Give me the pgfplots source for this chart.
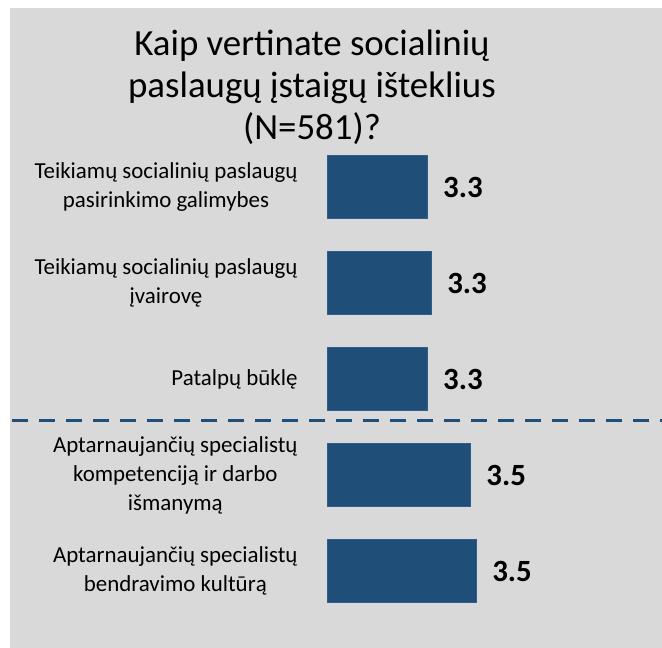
\documentclass[border=0pt]{standalone}
\usepackage{pgfplots}
\pgfplotsset{compat=1.18}
\usepackage{fontspec}
\setmainfont{Carlito}
\definecolor{bgc}{HTML}{D9D9D9}
\definecolor{barc}{HTML}{1F4E79}
\definecolor{baredge}{HTML}{2E5F8C}
\begin{document}
\begin{tikzpicture}[x=1bp,y=1bp]
\useasboundingbox (0,0) rectangle (662,648);
\fill[white] (0,0) rectangle (662,648);
\fill[bgc] (10,0) rectangle (662,640);
\node[align=center, font=\fontsize{37}{42}\selectfont, anchor=north, inner sep=0pt] at (312,618) {Kaip vertinate socialinių\\paslaugų įstaigų išteklius\\(N=581)?};
\begin{axis}[
  at={(327bp,29bp)}, anchor=south west,
  scale only axis, width=292.5bp, height=480bp,
  xbar, bar width=63bp,
  xmin=2.85, xmax=4.15, ymin=-0.5, ymax=4.5, y dir=reverse,
  axis line style={draw=none}, major tick style={draw=none},
  xtick=\empty, ytick={0,1,2,3,4},
  yticklabels={{Teikiamų socialinių paslaugų\\pasirinkimo galimybes},
               {Teikiamų socialinių paslaugų\\įvairovę},
               {Patalpų būklę},
               {Aptarnaujančių specialistų\\kompetenciją ir darbo\\išmanymą},
               {Aptarnaujančių specialistų\\bendravimo kultūrą}},
  yticklabel style={align=center, inner sep=0pt, anchor=east, xshift=-25bp,
     font=\fontsize{23}{29}\selectfont},
  point meta=x,
  nodes near coords={\pgfmathprintnumber[fixed,fixed zerofill,precision=1,assume math mode=true]{\pgfplotspointmeta}},
  nodes near coords style={font=\bfseries\fontsize{31}{31}\selectfont, anchor=west, inner sep=0pt, xshift=16bp},
  clip=false,
]
\addplot[fill=barc, draw=baredge, line width=0.6pt] coordinates {
  (3.294,0) (3.312,1) (3.294,2) (3.486,3) (3.512,4)
};
\end{axis}
\draw[barc, line width=3bp, dash pattern=on 16bp off 11bp] (12,227) -- (662,227);
\end{tikzpicture}
\end{document}
